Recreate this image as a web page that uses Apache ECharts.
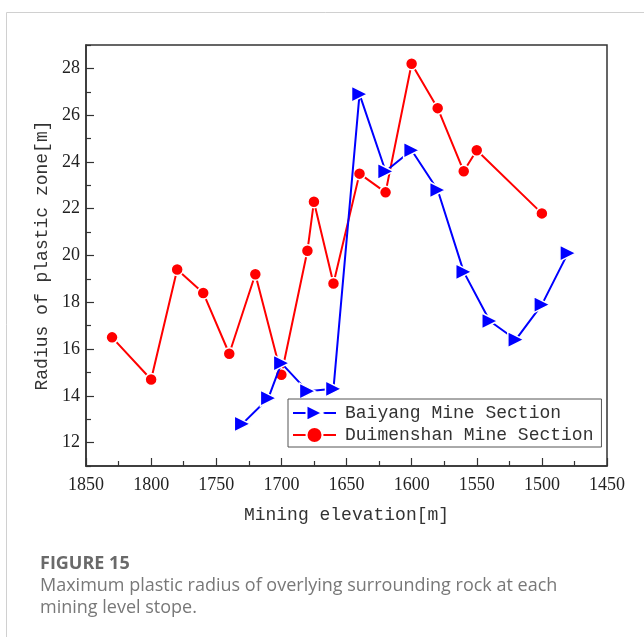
<!DOCTYPE html>
<html>
<head>
<meta charset="utf-8">
<script src="https://cdn.jsdelivr.net/npm/echarts@6/dist/echarts.min.js"></script>
<style>
  html, body { margin: 0; padding: 0; background: #fff; }
  #chart { width: 644px; height: 637px; }
</style>
</head>
<body>
<div id="chart"></div>
<script>
// elevation [m] and plastic zone radius [m]
const baiyangElev = [1730, 1710, 1700, 1680, 1660, 1640, 1620, 1600, 1580, 1560, 1540, 1520, 1500, 1480];
const baiyangRadius = [12.8, 13.9, 15.4, 14.2, 14.3, 26.9, 23.6, 24.5, 22.8, 19.3, 17.2, 16.4, 17.9, 20.1];

const duimenElev = [1830, 1800, 1780, 1760, 1740, 1720, 1700, 1680, 1675, 1660, 1640, 1620, 1600, 1580, 1560, 1550, 1500];
const duimenRadius = [16.5, 14.7, 19.4, 18.4, 15.8, 19.2, 14.9, 20.2, 22.3, 18.8, 23.5, 22.7, 28.2, 26.3, 23.6, 24.5, 21.8];

// y tick labels (major) and minor tick positions
const yMajor = [12, 14, 16, 18, 20, 22, 24, 26, 28];
const yMinor = [11, 13, 15, 17, 19, 21, 23, 25, 27, 29];

const seriesNames = ['Baiyang Mine Section', 'Duimenshan Mine Section'];
const captionTitle = 'FIGURE 15';
const captionLines = [
  'Maximum plastic radius of overlying surrounding rock at each',
  'mining level stope.'
];

const pairs = (xs, ys) => xs.map((x, i) => [x, ys[i]]);

const chart = echarts.init(document.getElementById('chart'));

const monoFont = '"Liberation Mono", "DejaVu Sans Mono", monospace';
const serifFont = '"Liberation Serif", "DejaVu Serif", serif';
const sansFont = '"Open Sans", "Noto Sans", sans-serif';
const frameColor = '#333';

const option = {
  animation: false,
  backgroundColor: '#fff',
  grid: {
    left: 86,
    top: 45,
    right: 37,
    bottom: 171,
    show: true,
    borderColor: frameColor,
    borderWidth: 1.5,
  },
  xAxis: {
    type: 'value',
    inverse: true,
    min: 1450,
    max: 1850,
    interval: 50,
    name: 'Mining elevation[m]',
    nameLocation: 'middle',
    nameGap: 40,
    nameTextStyle: { fontFamily: monoFont, fontSize: 18, color: '#333' },
    axisLine: { show: true, lineStyle: { color: frameColor, width: 1.5 } },
    axisTick: { show: true, inside: true, length: 8, lineStyle: { color: frameColor, width: 1.2 } },
    minorTick: { show: true, splitNumber: 2, length: 5, lineStyle: { color: frameColor, width: 1.2 } },
    splitLine: { show: false },
    axisLabel: { fontFamily: serifFont, fontSize: 18, color: '#222', margin: 10, formatter: (v) => String(v) },
  },
  yAxis: [
    {
      type: 'value',
      min: 11,
      max: 29,
      interval: 1,
      name: 'Radius of plastic zone[m]',
      nameLocation: 'middle',
      nameGap: 35,
      nameTextStyle: { fontFamily: monoFont, fontSize: 18, color: '#333' },
      axisLine: { show: true, lineStyle: { color: frameColor, width: 1.5 } },
      axisTick: { show: true, inside: true, length: 8, customValues: yMajor, lineStyle: { color: frameColor, width: 1.2 } },
      splitLine: { show: false },
      axisLabel: { fontFamily: serifFont, fontSize: 18, color: '#222', margin: 6, customValues: yMajor },
    },
    {
      // minor ticks only
      type: 'value',
      position: 'left',
      min: 11,
      max: 29,
      interval: 1,
      axisLine: { show: false },
      axisTick: { show: true, inside: true, length: 5, customValues: yMinor, lineStyle: { color: frameColor, width: 1.2 } },
      axisLabel: { show: false },
      splitLine: { show: false },
    },
  ],
  legend: {
    orient: 'vertical',
    left: 288,
    top: 399,
    padding: [5, 8, 3, 4],
    itemWidth: 43,
    itemHeight: 20,
    itemGap: 4,
    borderColor: '#555',
    borderWidth: 1,
    backgroundColor: '#fff',
    data: seriesNames,
    textStyle: { fontFamily: monoFont, fontSize: 18, color: '#333', padding: [0, 0, 0, 4] },
  },
  series: [
    {
      name: seriesNames[0],
      type: 'line',
      data: pairs(baiyangElev, baiyangRadius),
      symbol: 'triangle',
      symbolRotate: -90,
      symbolSize: 16,
      color: '#0000ff',
      lineStyle: { width: 2, color: '#0000ff' },
      itemStyle: { color: '#0000ff', borderColor: '#fff', borderWidth: 1.5 },
      z: 3,
    },
    {
      name: seriesNames[1],
      type: 'line',
      data: pairs(duimenElev, duimenRadius),
      symbol: 'circle',
      symbolSize: 12,
      color: '#ff0000',
      lineStyle: { width: 2, color: '#ff0000' },
      itemStyle: { color: '#ff0000', borderColor: '#fff', borderWidth: 1.5 },
      z: 2,
    },
  ],
  graphic: [
    // card border of the figure panel
    { type: 'line', shape: { x1: 6.5, y1: 12.5, x2: 644, y2: 12.5 }, style: { stroke: '#d0d0d0', lineWidth: 1 } },
    { type: 'line', shape: { x1: 6.5, y1: 12.5, x2: 6.5, y2: 637 }, style: { stroke: '#d0d0d0', lineWidth: 1 } },
    {
      type: 'text', left: 40, top: 555,
      style: { text: captionTitle, fontFamily: sansFont, fontSize: 18, fontWeight: 'bold', fill: '#6a6a6a' },
    },
    {
      type: 'text', left: 40, top: 575,
      style: { text: captionLines.join('\n'), fontFamily: sansFont, fontSize: 18, lineHeight: 22, fill: '#787878' },
    },
  ],
};

chart.setOption(option);
</script>
</body>
</html>
